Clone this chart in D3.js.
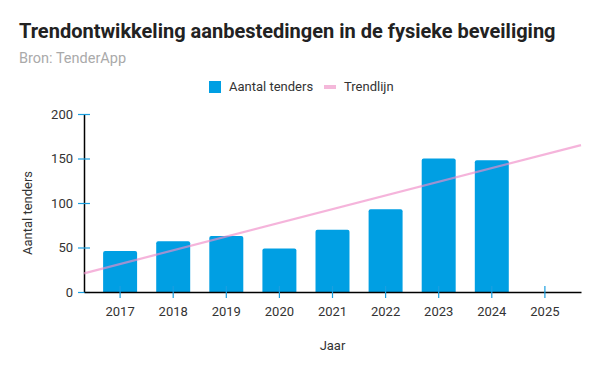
<!DOCTYPE html>
<html><head><meta charset="utf-8">
<script src="https://cdn.jsdelivr.net/npm/d3@7"></script>
<style>body{margin:0;background:#fff;} svg{font-family:Roboto, sans-serif;}</style>
</head><body><svg id="c" width="600" height="371"></svg>
<script>
const years = ["2017","2018","2019","2020","2021","2022","2023","2024","2025"];
const tenders = [46, 57, 63, 49, 70, 93, 150, 148, null];
const trendEnds = [21, 165]; // trend line value at left and right plot edge
const yTicks = [0, 50, 100, 150, 200];

const svg = d3.select("#c");
const m = {l:84, r:581, t:114, b:292};
const x = d3.scaleBand().domain(years).range([m.l, m.r]).paddingInner(0.36).paddingOuter(0.36);
const y = d3.scaleLinear().domain([0,200]).range([m.b, m.t]);
const blue = "#009fe3", tickBlue = "#1a9fe0";

svg.append("text").attr("x",19).attr("y",38).attr("font-size",20).attr("font-weight","bold").attr("fill","#222")
  .text("Trendontwikkeling aanbestedingen in de fysieke beveiliging");
svg.append("text").attr("x",19).attr("y",63).attr("font-size",14.5).attr("fill","#aaa").text("Bron: TenderApp");

// legend
const lg = svg.append("g");
lg.append("rect").attr("x",209).attr("y",81).attr("width",12).attr("height",12).attr("fill",blue);
lg.append("text").attr("x",229).attr("y",91).attr("font-size",13).attr("fill","#333").text("Aantal tenders");
lg.append("rect").attr("x",324).attr("y",85).attr("width",12).attr("height",4).attr("fill","#f4b8da");
lg.append("text").attr("x",344).attr("y",91).attr("font-size",13).attr("fill","#333").text("Trendlijn");

// bars
const bw = x.bandwidth(), r = 2;
svg.append("g").selectAll("path").data(years.map((d,i)=>({year:d,v:tenders[i]})).filter(d=>d.v!=null))
  .join("path").attr("fill",blue)
  .attr("d", d => {
    const x0 = x(d.year), x1 = x0+bw, y0 = y(d.v), yb = y(0);
    return `M${x0},${yb}V${y0+r}Q${x0},${y0} ${x0+r},${y0}H${x1-r}Q${x1},${y0} ${x1},${y0+r}V${yb}Z`;
  });

// axes
const yAxis = d3.axisLeft(y).tickValues(yTicks).tickSize(0).tickPadding(11);
const gy = svg.append("g").attr("transform",`translate(${m.l},0)`).call(yAxis);
gy.select(".domain").attr("stroke","#000").attr("stroke-width",1.5);
gy.selectAll(".tick text").attr("font-size",13).attr("fill","#333").attr("font-family","Roboto");
gy.selectAll(".tick").append("line").attr("x1",-6).attr("x2",6).attr("stroke",tickBlue).attr("stroke-width",1.2);

const xAxis = d3.axisBottom(x).tickSize(0).tickPadding(15);
const gx = svg.append("g").attr("transform",`translate(0,${m.b})`).call(xAxis);
gx.select(".domain").attr("stroke","#000").attr("stroke-width",1.5);
gx.selectAll(".tick text").attr("font-size",13).attr("fill","#333").attr("font-family","Roboto");
gx.selectAll(".tick").append("line").attr("y1",-6).attr("y2",6).attr("stroke",tickBlue).attr("stroke-width",1.2);

// trend line
svg.append("line").attr("x1",m.l).attr("x2",m.r).attr("y1",y(trendEnds[0])).attr("y2",y(trendEnds[1]))
  .attr("stroke","rgba(240,140,200,0.65)").attr("stroke-width",2.2);

svg.append("text").attr("x",(m.l+m.r)/2).attr("y",350).attr("text-anchor","middle").attr("font-size",13).attr("fill","#333").text("Jaar");
svg.append("text").attr("transform","translate(32,213) rotate(-90)").attr("text-anchor","middle").attr("font-size",13).attr("fill","#333").text("Aantal tenders");
</script></body></html>
